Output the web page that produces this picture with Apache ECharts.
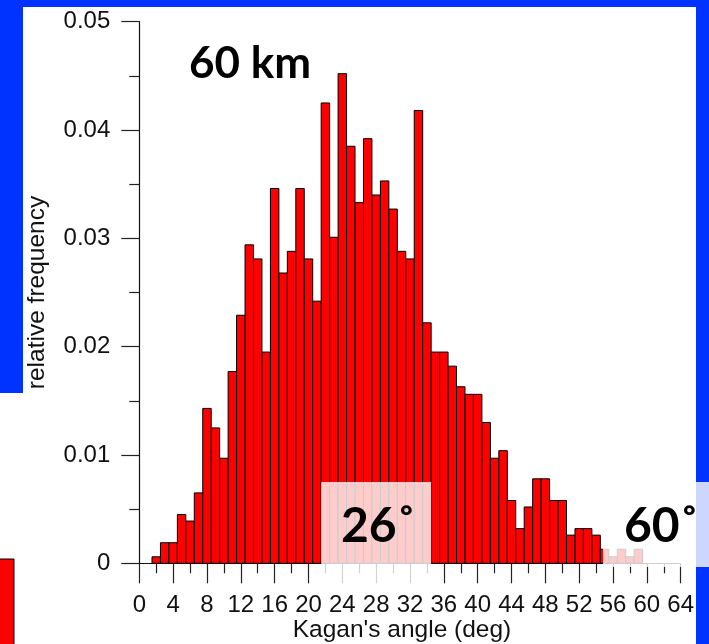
<!DOCTYPE html>
<html>
<head>
<meta charset="utf-8">
<script src="https://cdn.jsdelivr.net/npm/echarts@6/dist/echarts.min.js"></script>
<style>
  html, body { margin: 0; padding: 0; background: #ffffff; }
  #chart { width: 709px; height: 644px; }
</style>
</head>
<body>
<div id="chart"></div>
<script>
// Histogram of Kagan's angle, 1-degree bins centred on each whole degree
const angleBins = [
   2,  3,  4,  5,  6,  7,  8,  9, 10, 11, 12, 13, 14, 15, 16, 17, 18, 19, 20,
  21, 22, 23, 24, 25, 26, 27, 28, 29, 30, 31, 32, 33, 34, 35, 36, 37, 38, 39,
  40, 41, 42, 43, 44, 45, 46, 47, 48, 49, 50, 51, 52, 53, 54, 55, 56, 57, 58, 59
];
const relFreq = [
  0.0006, 0.0019, 0.0019, 0.0045, 0.0039, 0.0065, 0.0143, 0.0125, 0.0097, 0.0177,
  0.0229, 0.0294, 0.0281, 0.0195, 0.0346, 0.0268, 0.0288, 0.0346, 0.0281,
  0.0242, 0.0425, 0.0301, 0.0452, 0.0385, 0.0333, 0.0392, 0.0340, 0.0353, 0.0327,
  0.0288, 0.0281, 0.0418, 0.0222, 0.0195, 0.0195, 0.0182, 0.0163, 0.0156,
  0.0156, 0.0130, 0.0097, 0.0104, 0.0058, 0.0032, 0.0052, 0.0078, 0.0078, 0.0058,
  0.0058, 0.0026, 0.0032, 0.0032, 0.0026, 0.0013, 0.0006, 0.0013, 0.0006, 0.0013
];
const binWidth = 1;

// Axis ranges and tick steps
const xRange = [0, 64];
const xTickStep = 4;
const yRange = [0, 0.05];
const yTickStep = 0.01;

// Annotation texts
const depthLabel = '60 km';
const meanLabel = '26˚';
const maxLabel = '60˚';
const meanBand = [21.5, 34.5];   // degrees covered by the highlight behind the mean label
const bandTop = 0.0075;

const BLUE = '#0033ff';
const tickFont = 'Liberation Sans, Arial, sans-serif';
const boldFont = 'Lato, "Open Sans", sans-serif';

const chart = echarts.init(document.getElementById('chart'), null, { renderer: 'canvas' });

const barData = angleBins.map((a, i) => [a, relFreq[i]]);

const option = {
  animation: false,
  backgroundColor: '#ffffff',
  grid: { left: 139.3, right: 28.3, top: 21.7, bottom: 80.7, containLabel: false, outerBoundsMode: 'none' },
  xAxis: {
    type: 'value',
    min: xRange[0], max: xRange[1], interval: xTickStep,
    name: "Kagan's angle (deg)",
    nameLocation: 'middle',
    nameGap: 54,
    nameMoveOverlap: false,
    nameTextStyle: { fontFamily: tickFont, fontSize: 24.5, color: '#111', padding: [0, 16, 0, 0] },
    axisLine: { show: true, onZero: false, lineStyle: { color: '#111', width: 1.2 } },
    axisTick: { show: true, length: 20, lineStyle: { color: '#222', width: 1.2 } },
    minorTick: { show: true, splitNumber: 2, length: 10, lineStyle: { color: '#222', width: 1.2 } },
    axisLabel: { fontFamily: tickFont, fontSize: 24, color: '#111', margin: 30 },
    splitLine: { show: false }
  },
  yAxis: {
    type: 'value',
    min: yRange[0], max: yRange[1], interval: yTickStep,
    name: 'relative frequency',
    nameLocation: 'middle',
    nameGap: 90,
    nameMoveOverlap: false,
    nameTextStyle: { fontFamily: tickFont, fontSize: 24.5, color: '#111' },
    axisLine: { show: true, onZero: false, lineStyle: { color: '#111', width: 1.2 } },
    axisTick: { show: true, length: 18, lineStyle: { color: '#222', width: 1.2 } },
    minorTick: { show: true, splitNumber: 2, length: 10, lineStyle: { color: '#222', width: 1.2 } },
    axisLabel: { fontFamily: tickFont, fontSize: 24, color: '#111', margin: 29 },
    splitLine: { show: false }
  },
  series: [{
    type: 'custom',
    data: barData,
    encode: { x: 0, y: 1 },
    clip: false,
    z: 2,
    renderItem: function (params, api) {
      const x = api.value(0), y = api.value(1);
      const p0 = api.coord([x - binWidth / 2, y]);
      const p1 = api.coord([x + binWidth / 2, 0]);
      return {
        type: 'rect',
        shape: { x: p0[0], y: p0[1], width: p1[0] - p0[0], height: p1[1] - p0[1] },
        style: { fill: '#ff0000', stroke: '#000000', lineWidth: 1 }
      };
    }
  }]
};

chart.setOption(option);

// Slide frame, highlight boxes and the bold annotations
const bandL = chart.convertToPixel({ gridIndex: 0 }, [meanBand[0], bandTop]);
const bandR = chart.convertToPixel({ gridIndex: 0 }, [meanBand[1], 0]);

chart.setOption({
  graphic: [
    // blue frame of the slide
    { type: 'rect', z: 1, silent: true, shape: { x: 0, y: 0, width: 709, height: 7 }, style: { fill: BLUE } },
    { type: 'rect', z: 1, silent: true, shape: { x: 0, y: 0, width: 23, height: 393 }, style: { fill: BLUE } },
    { type: 'rect', z: 1, silent: true, shape: { x: 696, y: 0, width: 13, height: 644 }, style: { fill: BLUE } },
    // corner of a red swatch at the lower left
    { type: 'rect', z: 1, silent: true, shape: { x: -2, y: 559, width: 16, height: 90 },
      style: { fill: '#ff0000', stroke: '#000', lineWidth: 1 } },
    // translucent white boxes behind the angle labels
    { type: 'rect', z: 50, silent: true,
      shape: { x: bandL[0], y: bandL[1], width: bandR[0] - bandL[0], height: 588 - bandL[1] },
      style: { fill: 'rgba(255,255,255,0.8)' } },
    { type: 'rect', z: 50, silent: true,
      shape: { x: 603, y: bandL[1], width: 110, height: 567 - bandL[1] },
      style: { fill: 'rgba(255,255,255,0.8)' } },
    // labels
    { type: 'text', z: 60, silent: true, x: 189, y: 64,
      style: { text: depthLabel, font: 'bold 44px ' + boldFont, fill: '#000', verticalAlign: 'middle', textVerticalAlign: 'middle' } },
    { type: 'text', z: 60, silent: true, x: 341, y: 527,
      style: { text: meanLabel, font: 'bold 48px ' + boldFont, fill: '#000', verticalAlign: 'middle', textVerticalAlign: 'middle' } },
    { type: 'text', z: 60, silent: true, x: 624, y: 527,
      style: { text: maxLabel, font: 'bold 48px ' + boldFont, fill: '#000', verticalAlign: 'middle', textVerticalAlign: 'middle' } }
  ]
});
</script>
</body>
</html>
